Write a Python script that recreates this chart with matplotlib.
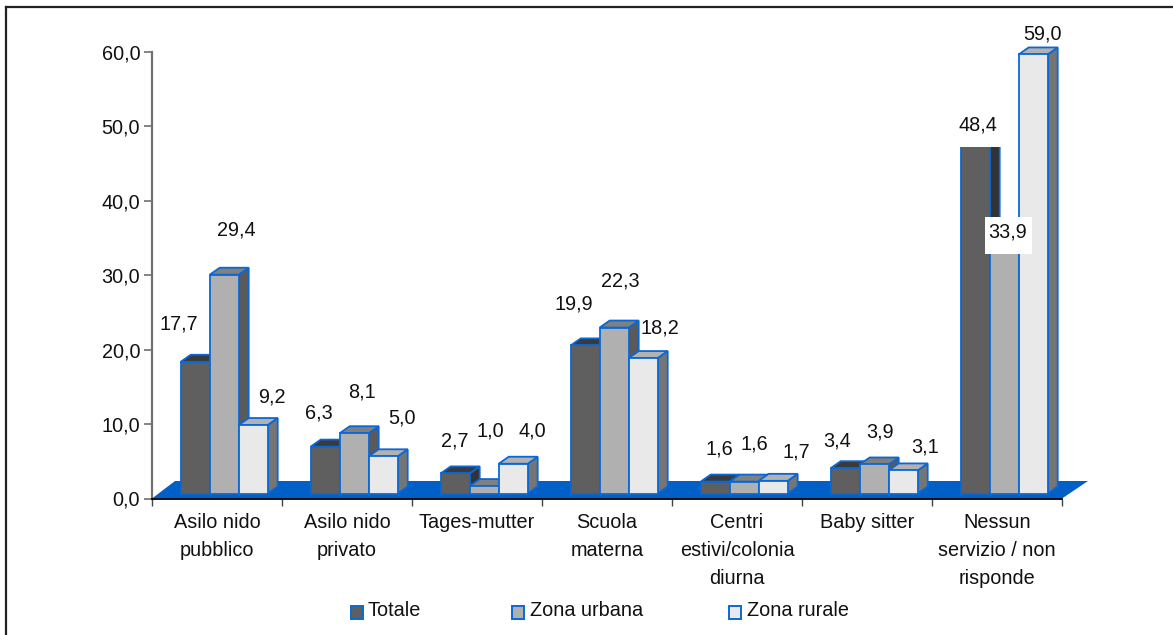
"""
Servizi per la prima infanzia: barre pseudo-3D per tipo di zona
"""

import matplotlib
matplotlib.use('Agg')
import matplotlib.pyplot as plt
from matplotlib.lines import Line2D
from matplotlib.patches import Polygon, Rectangle

plt.rcParams['font.family'] = ['Liberation Sans', 'DejaVu Sans']

categorie = ['Asilo nido\npubblico', 'Asilo nido\nprivato', 'Tages-mutter',
             'Scuola\nmaterna', 'Centri\nestivi/colonia\ndiurna', 'Baby sitter',
             'Nessun\nservizio / non\nrisponde']
totale = [17.7, 6.3, 2.7, 19.9, 1.6, 3.4, 48.4]
zona_urbana = [29.4, 8.1, 1.0, 22.3, 1.6, 3.9, 33.9]
zona_rurale = [9.2, 5.0, 4.0, 18.2, 1.7, 3.1, 59.0]
serie = ['Totale', 'Zona urbana', 'Zona rurale']
tick_y = [0, 10, 20, 30, 40, 50, 60]

# colori: fronte, tetto, fianco
colori = [('#5f5f5f', '#3a3a3a', '#333333'),
          ('#b0b0b0', '#808080', '#5a5a5a'),
          ('#e9e9e9', '#b2b2b2', '#757575')]
BLU = '#0060c8'
BORDO = '#0a68d6'
FONT = 14.3

W, H = 1173, 635
X0, X1, Y_TOP, Y_BOT = 152, 1062, 52, 498.5
PX_CAT = (X1 - X0) / 7
PX_VAL = (Y_BOT - Y_TOP) / 60

# spostamenti in unita' dati
DX = 10 / PX_CAT
DY = 7 / PX_VAL
BASE = 5 / PX_VAL
LARGH = 29 / PX_CAT
INIZIO = 28.7 / PX_CAT

# posizione delle etichette (centro, in pixel)
pos_etichette = [
    [(179, 324), (319, 413), (455, 441), (574, 304), (719, 449), (837, 441), (978, 125)],
    [(236, 230), (362, 392), (490, 431), (620, 281), (754, 444), (880, 432), (1008, 232)],
    [(272, 397), (402, 418), (532, 431), (660, 328), (796, 452), (925, 447), (1042, 34)],
]


def px_x(x):
    return (x - X0) / PX_CAT


def px_y(y):
    return (Y_BOT - y) / PX_VAL


def disegna_barra(ax, x, v, col):
    """Barra con fianco, tetto e fronte"""
    front, top, side = col
    y0, y1 = BASE, BASE + v
    kw = dict(ec=BORDO, lw=1.3, joinstyle='miter', zorder=3, clip_on=False)
    ax.add_patch(Polygon([(x + LARGH, y0), (x + LARGH + DX, y0 + DY),
                          (x + LARGH + DX, y1 + DY), (x + LARGH, y1)], fc=side, **kw))
    ax.add_patch(Polygon([(x, y1), (x + DX, y1 + DY),
                          (x + LARGH + DX, y1 + DY), (x + LARGH, y1)], fc=top, **kw))
    ax.add_patch(Polygon([(x, y0), (x + LARGH, y0), (x + LARGH, y1), (x, y1)], fc=front, **kw))


fig = plt.figure(figsize=(W / 100, H / 100), dpi=100)
ax = fig.add_axes([X0 / W, 1 - Y_BOT / H, (X1 - X0) / W, (Y_BOT - Y_TOP) / H])
ax.set_xlim(0, 7)
ax.set_ylim(0, 60)
ax.patch.set_alpha(0)

for s in ['top', 'right']:
    ax.spines[s].set_visible(False)
ax.spines['left'].set_color('#707070')
ax.spines['left'].set_linewidth(1.6)
ax.spines['bottom'].set_color('black')
ax.spines['bottom'].set_linewidth(1.3)
ax.spines['bottom'].set_zorder(5)

# pavimento blu
ax.add_patch(Polygon([(0, 0), (7, 0), (px_x(1088), px_y(481)), (px_x(175), px_y(481))],
                     fc=BLU, ec='none', zorder=1, clip_on=False))

valori = [totale, zona_urbana, zona_rurale]
for i in range(len(categorie)):
    for j in range(3):
        disegna_barra(ax, i + INIZIO + j * LARGH, valori[j][i], colori[j])

# le due etichette con sfondo bianco coprono la cima delle barre
for cx, cy, bw, bh in [(978, 128, 47, 38), (1008, 235, 47, 37)]:
    ax.add_patch(Rectangle((px_x(cx - bw / 2), px_y(cy + bh / 2)), bw / PX_CAT, bh / PX_VAL,
                           fc='white', ec='none', zorder=4, clip_on=False))

for j, vals in enumerate(valori):
    for (px, py), v in zip(pos_etichette[j], vals):
        ax.text(px_x(px), px_y(py), f'{v:.1f}'.replace('.', ','), ha='center', va='center',
                fontsize=FONT, color='#111111', zorder=6, clip_on=False)

ax.set_xticks(range(8))
ax.set_xticklabels([])
ax.tick_params(axis='x', length=5, color='#444444', width=1)
ax.set_yticks(tick_y)
ax.set_yticklabels([f'{t:.1f}'.replace('.', ',') for t in tick_y], fontsize=FONT, color='#111111')
ax.tick_params(axis='y', length=5.5, color='#707070', width=1.2, pad=3)

for i, c in enumerate(categorie):
    ax.text(i + 0.5, px_y(513), c, ha='center', va='top', fontsize=FONT,
            color='#111111', linespacing=1.6, clip_on=False)

# legenda
for nome, x_q, x_t, col in zip(serie, [351, 512, 729], [368, 530, 747], colori):
    fig.patches.append(Rectangle((x_q / W, 1 - 619 / H), 12 / W, 13 / H, transform=fig.transFigure,
                                 fc=col[0], ec=BORDO, lw=1.4))
    fig.text(x_t / W, 1 - 611 / H, nome, ha='left', va='center', fontsize=FONT, color='#111111')

# cornice esterna: solo lato superiore e sinistro
fig.add_artist(Line2D([6 / W, 1], [1 - 6.5 / H, 1 - 6.5 / H], color='#222222', lw=1.6))
fig.add_artist(Line2D([6 / W, 6 / W], [0, 1 - 6.5 / H], color='#222222', lw=1.6))

fig.savefig('out.png', dpi=100)
